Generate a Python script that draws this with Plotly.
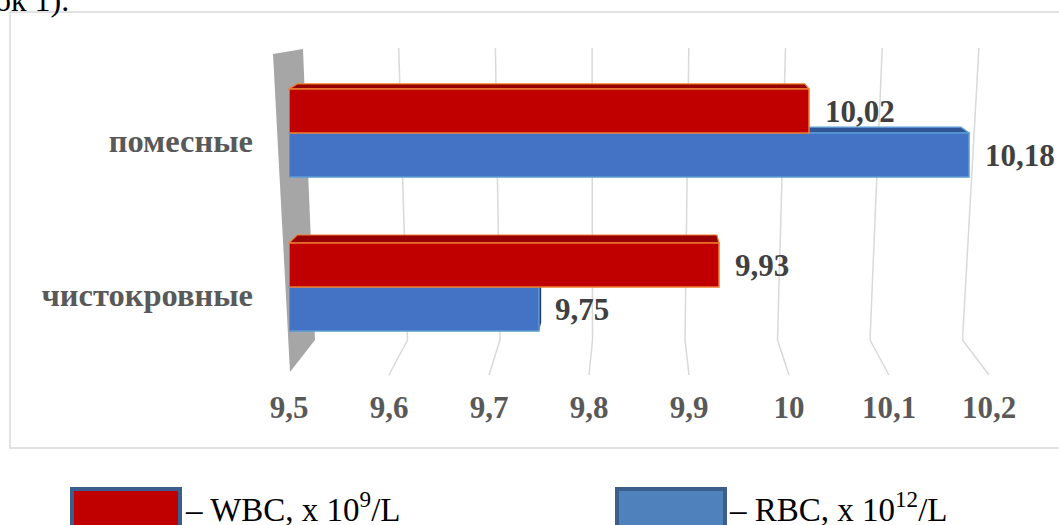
import plotly.graph_objects as go

# ---- data -------------------------------------------------------------
categories = ["чистокровные", "помесные"]
wbc = [9.93, 10.02]          # WBC, x 10^9/L
rbc = [9.75, 10.18]          # RBC, x 10^12/L
x_ticks = [9.5, 9.6, 9.7, 9.8, 9.9, 10.0, 10.1, 10.2]
x_tick_labels = ["9,5", "9,6", "9,7", "9,8", "9,9", "10", "10,1", "10,2"]
legend_labels = ["– WBC, x 10<sup>9</sup>/L", "– RBC, x 10<sup>12</sup>/L"]
caption = "ок 1)."

# ---- geometry of the figure (pixels) -----------------------------------
FIG_W, FIG_H = 1059, 525
L, T, PW, PH = 289, 48, 760, 327          # plot area
X0, X1 = 9.5, 10.26                         # x range
Y0, Y1 = -0.571, 1.552                      # y range (category index)
BASE = 9.5
BAR_W = 0.286

SERIF = "Liberation Serif, Times New Roman, serif"
RED, RED_TOP, RED_EDGE = "#C00000", "#960000", "#ED7D31"
BLUE, BLUE_TOP, BLUE_EDGE = "#4472C4", "#2F5597", "#5B9BD5"
GRID = "#D9D9D9"


def px_x(v):
    return L + (v - X0) / (X1 - X0) * PW


def px_y(v):
    return T + (Y1 - v) / (Y1 - Y0) * PH


def pap_x(px):
    return (px - L) / PW


def pap_y(py):
    return (T + PH - py) / PH


def poly(points, fill, line=None, lw=0):
    path = "M " + " L ".join(f"{pap_x(x):.5f},{pap_y(y):.5f}" for x, y in points) + " Z"
    return dict(type="path", xref="paper", yref="paper", path=path, layer="below",
                fillcolor=fill, line=dict(color=line or fill, width=lw))


def seg(p, q, color=GRID, width=1.5):
    return dict(type="line", xref="paper", yref="paper", layer="below",
                x0=pap_x(p[0]), y0=pap_y(p[1]), x1=pap_x(q[0]), y1=pap_y(q[1]),
                line=dict(color=color, width=width))


# perspective helpers for the pseudo-3D look
VPX, KX = 630.0, 0.024
WALL_TOP, WALL_BOT, FLOOR = 48, 340, px_y(Y0)


def back_x(x):
    return x + (VPX - x) * KX


def depth_y(py):
    return 3.3 + 0.0194 * py


def wall_top_x(v):
    return 302 + (v - 9.5) * 967


def wall_bot_x(v):
    return 315 + (v - 9.5) * 925


shapes = []

# outer chart frame
shapes.append(dict(type="rect", xref="paper", yref="paper", layer="below",
                   x0=pap_x(10), x1=pap_x(1062), y0=pap_y(12), y1=pap_y(448),
                   line=dict(color=GRID, width=1.5), fillcolor="rgba(0,0,0,0)"))

# back wall grid lines and floor lines
for v in x_ticks[1:]:
    shapes.append(seg((wall_top_x(v), WALL_TOP), (wall_bot_x(v), WALL_BOT)))
    shapes.append(seg((wall_bot_x(v), WALL_BOT), (px_x(v), FLOOR)))

# side wall
shapes.append(poly([(273, 54), (303, 49), (315, 340), (290, 372)], "#A6A6A6"))

# top and side faces of the bars
def faces(val, y_lo, y_hi, top_col, edge_col):
    xl, xr = px_x(BASE), px_x(val)
    yt, yb = px_y(y_hi), px_y(y_lo)
    d = depth_y(yt)
    out = [poly([(xl, yt), (xr, yt), (back_x(xr), yt - d), (back_x(xl), yt - d)],
                top_col, edge_col, 1.2)]
    if xr < VPX:
        out.append(poly([(xr, yt), (back_x(xr), yt - d), (back_x(xr), yb - d), (xr, yb)],
                        "#1F3864"))
    return out


for i in range(len(categories)):
    shapes += faces(rbc[i], i - BAR_W, i, BLUE_TOP, BLUE_EDGE)
for i in range(len(categories)):
    shapes += faces(wbc[i], i, i + BAR_W, RED_TOP, RED_EDGE)

# legend swatches
shapes.append(dict(type="rect", xref="paper", yref="paper", layer="above",
                   x0=pap_x(72), x1=pap_x(180), y0=pap_y(489), y1=pap_y(560),
                   fillcolor=RED, line=dict(color="#3B5E8C", width=4)))
shapes.append(dict(type="rect", xref="paper", yref="paper", layer="above",
                   x0=pap_x(617), x1=pap_x(725), y0=pap_y(489), y1=pap_y(560),
                   fillcolor="#4F81BD", line=dict(color="#3B5E8C", width=4)))

positions = list(range(len(categories)))

fig = go.Figure()
fig.add_trace(go.Bar(
    orientation="h", y=positions, x=[v - BASE for v in rbc], base=BASE,
    offset=-BAR_W, width=BAR_W, name="RBC",
    marker=dict(color=BLUE, line=dict(color=BLUE_EDGE, width=1.5)),
    hoverinfo="skip",
))
fig.add_trace(go.Bar(
    orientation="h", y=positions, x=[v - BASE for v in wbc], base=BASE,
    offset=0, width=BAR_W, name="WBC",
    marker=dict(color=RED, line=dict(color=RED_EDGE, width=1.5)),
    hoverinfo="skip",
))


def fmt(v):
    return f"{v:.2f}".replace(".", ",")


label_font = dict(family=SERIF, size=31, color="#404040", weight="bold")
annotations = []
for i in range(len(categories)):
    annotations.append(dict(x=wbc[i], y=i + BAR_W / 2, xref="x", yref="y",
                            text=fmt(wbc[i]), showarrow=False, xanchor="left",
                            xshift=14, font=label_font))
    annotations.append(dict(x=rbc[i], y=i - BAR_W / 2, xref="x", yref="y",
                            text=fmt(rbc[i]), showarrow=False, xanchor="left",
                            xshift=14, font=label_font))

# legend texts
legend_font = dict(family=SERIF, size=33, color="#000000")
annotations.append(dict(x=pap_x(183), y=pap_y(507), xref="paper", yref="paper",
                        text=legend_labels[0], showarrow=False, xanchor="left",
                        yanchor="middle", font=legend_font))
annotations.append(dict(x=pap_x(727), y=pap_y(507), xref="paper", yref="paper",
                        text=legend_labels[1], showarrow=False, xanchor="left",
                        yanchor="middle", font=legend_font))

# caption fragment above the chart
annotations.append(dict(x=pap_x(71), y=pap_y(0), xref="paper", yref="paper",
                        text=caption, showarrow=False, xanchor="right",
                        yanchor="middle", font=dict(family=SERIF, size=32, color="#000000")))

fig.update_layout(
    width=FIG_W, height=FIG_H,
    margin=dict(l=L, r=FIG_W - L - PW, t=T, b=FIG_H - T - PH, pad=0),
    paper_bgcolor="white", plot_bgcolor="rgba(0,0,0,0)",
    barmode="overlay", showlegend=False,
    shapes=shapes, annotations=annotations,
    xaxis=dict(range=[X0, X1], tickvals=x_ticks, ticktext=x_tick_labels,
               showgrid=False, zeroline=False, showline=False, ticks="",
               ticklabelstandoff=11,
               tickfont=dict(family=SERIF, size=31, color="#595959", weight="bold")),
    yaxis=dict(range=[Y0, Y1], tickvals=positions, ticktext=categories,
               showgrid=False, zeroline=False, showline=False, ticks="",
               ticklabelstandoff=35, ticklabelshift=8,
               tickfont=dict(family=SERIF, size=32.5, color="#595959", weight="bold")),
)

fig.write_html("out.html")
